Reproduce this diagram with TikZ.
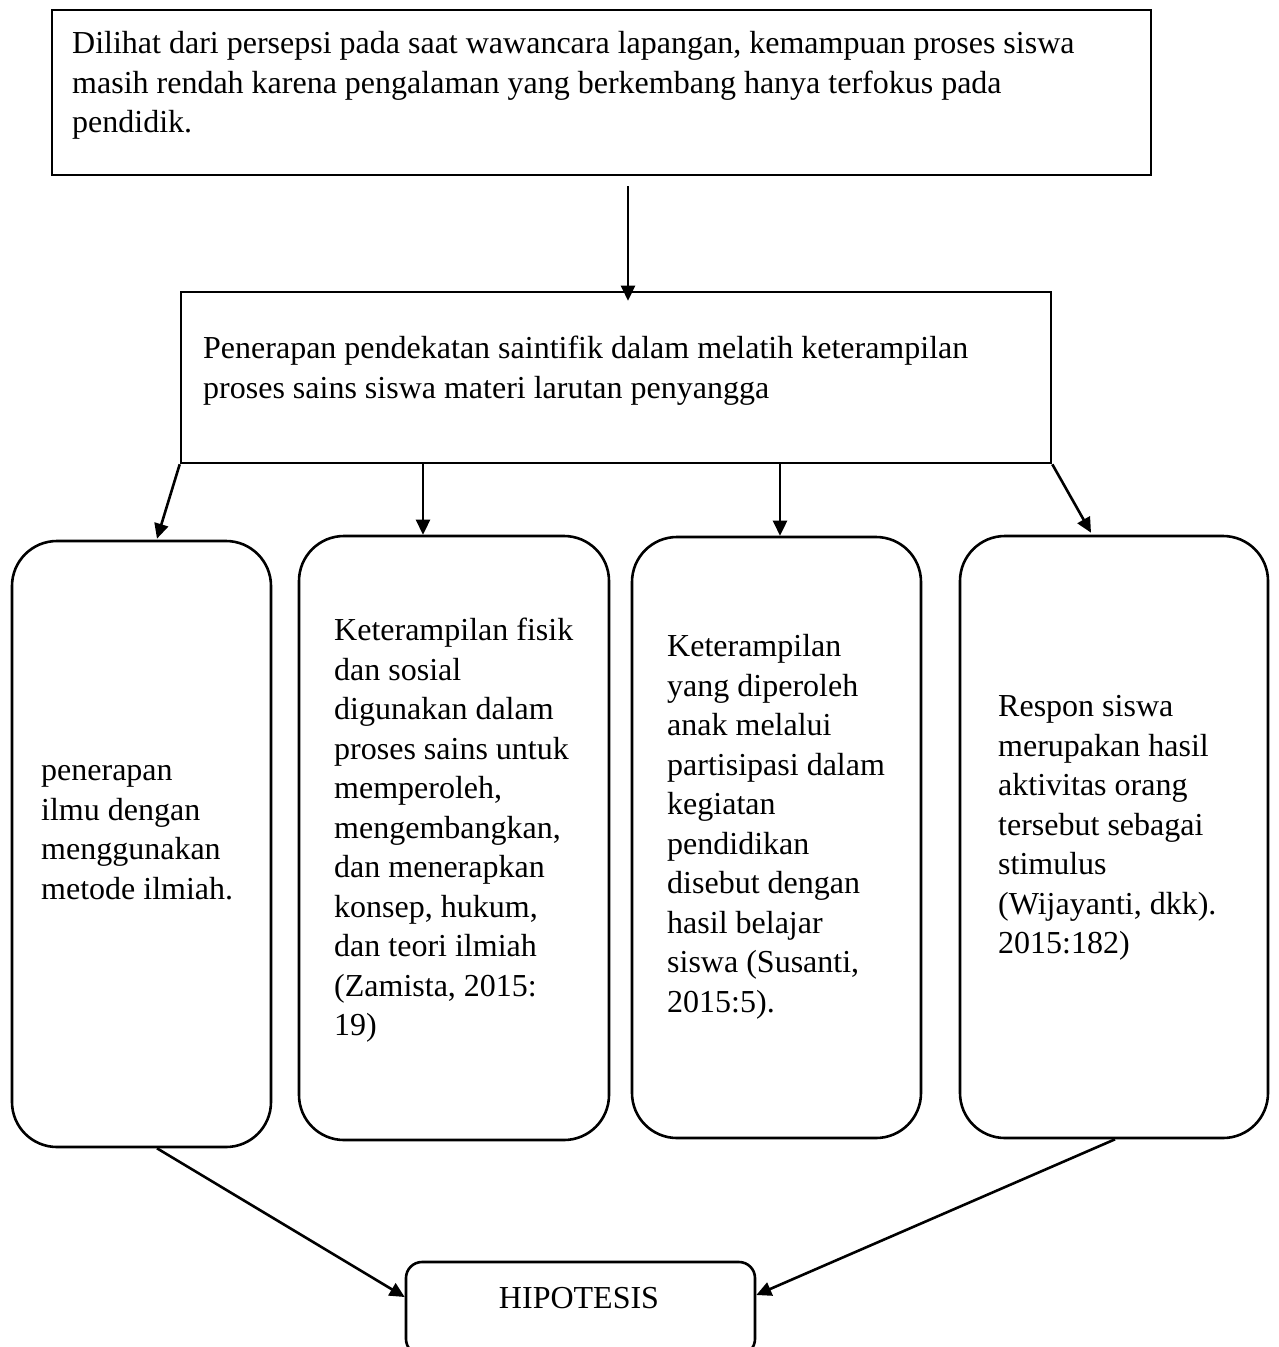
\documentclass[tikz,border=0pt]{standalone}
\usepackage{fontspec}
\setmainfont{Liberation Serif}
\usetikzlibrary{arrows.meta}
\begin{document}
\begin{tikzpicture}[x=1pt,y=-1pt,
  box/.style={draw, line width=2.6pt, inner sep=0pt},
  rbox/.style={box, rounded corners=45pt},
  txt/.style={anchor=north west, align=left, inner sep=0pt, font=\fontsize{32}{39.5}\selectfont},
  arr/.style={line width=2.6pt, -{Triangle[length=15pt,width=14pt]}}]
\clip (0,0) rectangle (1278,1347);
\fill[white] (0,0) rectangle (1278,1347);

% boxes
\node[box, minimum width=1099pt, minimum height=165pt] (top) at (601.5,92.5) {};
\node[box, minimum width=870pt, minimum height=171pt] (mid) at (616,377.5) {};
\node[rbox, minimum width=259pt, minimum height=606pt] (r1) at (141.5,844) {};
\node[rbox, minimum width=310pt, minimum height=604pt] (r2) at (454,838) {};
\node[rbox, minimum width=289pt, minimum height=601pt] (r3) at (776.5,837.5) {};
\node[rbox, minimum width=308pt, minimum height=602pt] (r4) at (1114,837) {};
\node[box, rounded corners=16pt, minimum width=349pt, minimum height=93pt] (hip) at (580.5,1308.5) {};

% texts
\node[txt] (t0) at (72,26) {\strut Dilihat dari persepsi pada saat wawancara lapangan, kemampuan proses siswa\\
masih rendah karena pengalaman yang berkembang hanya terfokus pada\\
pendidik.};
\node[txt] (t1) at (203,331) {\strut Penerapan pendekatan saintifik dalam melatih keterampilan\\
proses sains siswa materi larutan penyangga};
\node[txt] (t2) at (41,753) {\strut penerapan\\ ilmu dengan\\ menggunakan\\ metode ilmiah.};
\node[txt] (t3) at (334,613) {\strut Keterampilan fisik\\ dan sosial\\ digunakan dalam\\ proses sains untuk\\ memperoleh,\\ mengembangkan,\\ dan menerapkan\\ konsep, hukum,\\ dan teori ilmiah\\ (Zamista, 2015:\\ 19)};
\node[txt] (t4) at (667,629) {\strut Keterampilan\\ yang diperoleh\\ anak melalui\\ partisipasi dalam\\ kegiatan\\ pendidikan\\ disebut dengan\\ hasil belajar\\ siswa (Susanti,\\ 2015:5).};
\node[txt] (t5) at (998,689) {\strut Respon siswa\\ merupakan hasil\\ aktivitas orang\\ tersebut sebagai\\ stimulus\\ (Wijayanti, dkk).\\ 2015:182)};
\node[anchor=base, inner sep=0pt, font=\fontsize{32}{39.5}\selectfont] (t6) at (579,1308) {HIPOTESIS};

% connectors
\draw[arr] ([xshift=26.5pt,yshift=-10pt]top.south) -- ([xshift=12pt,yshift=-10pt]mid.north);
\draw[arr] (mid.south west) -- ([xshift=15.5pt,yshift=1pt]r1.north);
\draw[arr] ([xshift=-193pt]mid.south) -- ([xshift=-31pt]r2.north);
\draw[arr] ([xshift=164pt]mid.south) -- ([xshift=3.5pt]r3.north);
\draw[arr] (mid.south east) -- ([xshift=-23pt,yshift=2pt]r4.north);
\draw[arr] ([xshift=15.5pt]r1.south) -- ([yshift=11.5pt]hip.west);
\draw[arr] ([xshift=1pt]r4.south) -- ([yshift=13.5pt]hip.east);
\end{tikzpicture}
\end{document}
